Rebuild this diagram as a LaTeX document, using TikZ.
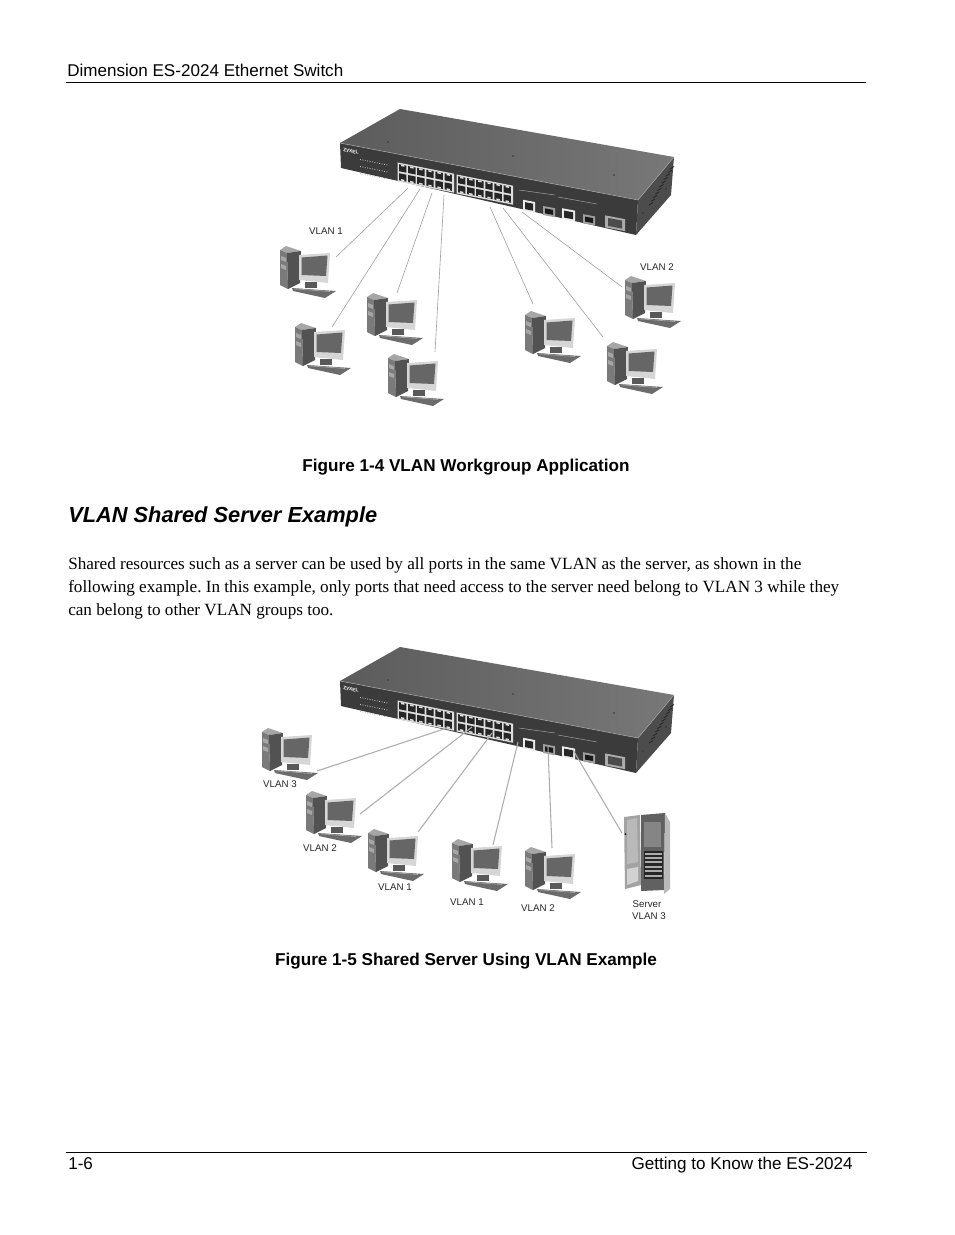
\documentclass[tikz,border=0pt]{standalone}
\usepackage{fontspec}
\usepackage{tikz}
\usetikzlibrary{positioning}
\setmainfont{Liberation Sans}
\newfontfamily\bodyfont{Liberation Serif}
\frenchspacing
\definecolor{toplight}{gray}{.47}
\definecolor{topdark}{gray}{.36}
\definecolor{frontface}{gray}{.23}
\definecolor{sideface}{gray}{.30}
\definecolor{cable}{gray}{.62}
\tikzset{
	page text/.style={font=\fontsize{12.8}{15}\selectfont, inner sep=0pt, anchor=base west},
	caption/.style={font=\fontsize{12.85}{15}\bfseries\selectfont, inner sep=0pt, anchor=base},
	body line/.style={font=\bodyfont\fontsize{12.86}{15}\selectfont, inner sep=0pt, anchor=base west},
	vlan/.style={font=\fontsize{7.3}{9}\selectfont, text=black!85, inner sep=0pt},
	link/.style={draw=cable, line width=.45pt},
	fat link/.style={draw=cable!85, line width=.8pt},
	pics/computer/.style={code={
		\fill[gray!70] (0,0) -- (6,-4) -- (21,1) -- (7,3) -- cycle;
		\fill[black!52] (0,0) -- (7,3) -- (8,39) -- (0,35) -- cycle;
		\fill[black!68] (7,3) -- (21,1) -- (20,33) -- (8,39) -- cycle;
		\fill[black!35] (1,6) -- (6,8) -- (6,12) -- (1,10) -- cycle;
		\fill[black!35] (1,14) -- (6,16) -- (6,20) -- (1,18) -- cycle;
		\fill[black!65] (25,32) rectangle (37,38);
		\fill[gray!32] (19,5) -- (50,3) -- (48,33) -- (19,30) -- cycle;
		\fill[black!60] (21.5,7.5) -- (47.5,5.5) -- (46,26) -- (21.5,25) -- cycle;
		\fill[black!58] (12,38) -- (56,41) -- (45,48) -- (13,41) -- cycle;
		\draw[gray!70, line width=.5pt] (14,38.8) -- (50,41.5);
	}},
	pics/server/.style={code={
		\fill[gray!72] (0,0) -- (16,-2) -- (17,68) -- (1,72) -- cycle;
		\fill[gray!55] (3,3) -- (13,1) -- (14,45) -- (3,47) -- cycle;
		\fill[gray!35] (3,52) -- (14,50) -- (14,64) -- (3,68) -- cycle;
		\fill[black!62] (17,-2) -- (41,-4) -- (40,73) -- (17,74) -- cycle;
		\fill[gray!55] (41,-4) -- (46,5) -- (46,72) -- (40,77) -- cycle;
		\fill[black!48] (20,5) rectangle (37,30);
		\fill[black!85] (20,34) rectangle (39,62);
		\fill[black!90] (1.5,17) circle (1);
		\foreach \k in {0,...,5}
			\fill[gray!65] (21,{35.5+\k*4.4}) rectangle (38,{37.5+\k*4.4});
	}},
	pics/portgroup/.style={code={
		\fill[gray!25] (-.5,-.5) rectangle (56,18.5);
		\foreach \i in {0,...,5} {
			\fill[black!85] ({1+\i*9.1},1) rectangle +(7.4,7);
			\fill[black!85] ({1+\i*9.1},10) rectangle +(7.4,7);
			\fill[gray!25] ({3+\i*9.1},1) rectangle +(3.4,1.5);
			\fill[gray!25] ({3+\i*9.1},15.5) rectangle +(3.4,1.5);
		}
	}},
	pics/switch/.style={code={
		\shade[left color=topdark, right color=toplight] (0,0) -- (60,-34) -- (334,14) -- (298,57) -- cycle;
		\fill[frontface] (0,0) -- (298,57) -- (296,92) -- (1,25) -- cycle;
		\fill[sideface] (298,57) -- (334,14) -- (331,52) -- (296,92) -- cycle;
		\draw[gray!70, line width=.4pt] (0,0) -- (298,57) -- (334,14);
		\fill[black!80] (48,-1) circle (.8) (173,13) circle (.8) (274,32) circle (.8);
		\begin{scope}[yslant=-.2]
			\node[font=\fontsize{3.7}{4}\bfseries\selectfont, text=white, inner sep=0pt, anchor=west, transform shape] (logo) at (3,6.5) {ZyXEL};
			\foreach \i in {0,...,11} \foreach \j in {0,1,2}
				\fill[gray!55] ({20+\i*2.4},{12+\j*7}) rectangle +(.9,.9);
		\end{scope}
		\pic[shift={(58,20)}, yslant=-.2] {portgroup};
		\pic[shift={(117,32)}, yslant=-.2] {portgroup};
		\draw[gray!70, line width=.35pt] (179,47) -- (215,52) (218,54) -- (257,61);
		\begin{scope}[yslant=-.19]
			\fill[gray!15] (183,22) rectangle +(12,11);
			\fill[black!85] (185,24) rectangle +(8,7);
			\fill[gray!75] (203,24.4) rectangle +(12,9);
			\fill[black!90] (205,26.4) rectangle +(8,5);
			\fill[gray!15] (222,23) rectangle +(13,11);
			\fill[black!85] (224,25) rectangle +(9,7);
			\fill[gray!75] (243,25) rectangle +(12,9);
			\fill[black!90] (245,27) rectangle +(8,5);
			\fill[gray!65] (265,22) rectangle +(20,12);
			\fill[black!70] (268,24) rectangle +(14,8);
		\end{scope}
		\foreach \k in {0,...,10}
			\draw[black!85, line width=.6pt] ({309+\k*2.1},{62-\k*3.6}) -- +(4,-2.5);
		\fill[black!80] (303,70) circle (.8) (326,46) circle (.8);
	}}
}
\begin{document}
\begin{tikzpicture}[x=.75pt,y=-.75pt]
	\useasboundingbox (0,0) rectangle (954,1235);

	\node[page text] (header) at (67,76) {Dimension ES-2024 Ethernet Switch};
	\coordinate (headL) at (66,82.5);
	\coordinate (headR) at (866,82.5);
	\draw[line width=.6pt] (headL) -- (headR);

	\pic (sw1) at (340,143) {switch};
	\pic (pc1) at (280,250) {computer};
	\pic (pc2) at (295,327) {computer};
	\pic (pc3) at (367,297) {computer};
	\pic (pc4) at (388,358) {computer};
	\pic (pc5) at (525,315) {computer};
	\pic (pc6) at (607,346) {computer};
	\pic (pc7) at (625,280) {computer};

	\node[vlan] (v1) at (326,231) {VLAN 1};
	\node[vlan] (v2) at (657,267) {VLAN 2};

	\coordinate (p1) at (408,188);
	\coordinate (p2) at (420,189);
	\coordinate (p3) at (432,193);
	\coordinate (p4) at (444,195);
	\coordinate (p5) at (490,207);
	\coordinate (p6) at (503,208);
	\coordinate (p7) at (522,212);
	\coordinate (e1) at (336,257);
	\coordinate (e2) at (332,327);
	\coordinate (e3) at (397,293);
	\coordinate (e4) at (435,352);
	\coordinate (e5) at (533,304);
	\coordinate (e6) at (603,337);
	\coordinate (e7) at (622,287);

	\path[link]
	(p1) edge (e1)
	(p2) edge (e2)
	(p3) edge (e3)
	(p4) edge (e4)
	(p5) edge (e5)
	(p6) edge (e6)
	(p7) edge (e7);

	\node[caption] (cap1) at (466,471) {Figure 1-4 VLAN Workgroup Application};
	\node[page text, font=\fontsize{16.35}{19}\bfseries\itshape\selectfont] (head2) at (68,522) {VLAN Shared Server Example};

	\node[body line] (l1) at (68,569) {Shared resources such as a server can be used by all ports in the same VLAN as the server, as shown in the};
	\node[body line] (l2) at (68,592) {following example. In this example, only ports that need access to the server need belong to VLAN 3 while they};
	\node[body line] (l3) at (68,615) {can belong to other VLAN groups too.};

	\pic (sw2) at (340,681) {switch};
	\pic (pc8) at (262,732) {computer};
	\pic (pc9) at (306,795) {computer};
	\pic (pc10) at (368,833) {computer};
	\pic (pc11) at (452,843) {computer};
	\pic (pc12) at (525,851) {computer};
	\pic (srv) at (624,817) {server};

	\node[vlan] (v3) at (280,784) {VLAN 3};
	\node[vlan] (v4) at (320,848) {VLAN 2};
	\node[vlan] (v5) at (395,887) {VLAN 1};
	\node[vlan] (v6) at (467,902) {VLAN 1};
	\node[vlan] (v7) at (538,908) {VLAN 2};
	\node[vlan] (v8) at (647,904) {Server};
	\node[vlan] (v9) at (649,916) {VLAN 3};

	\coordinate (q1) at (447,728);
	\coordinate (q2) at (472,727);
	\coordinate (q3) at (492,733);
	\coordinate (q4) at (518,742);
	\coordinate (q5) at (548,747);
	\coordinate (q6) at (573,750);
	\coordinate (f1) at (317,771);
	\coordinate (f2) at (360,814);
	\coordinate (f3) at (418,832);
	\coordinate (f4) at (493,845);
	\coordinate (f5) at (552,848);
	\coordinate (f6) at (622,833);

	\path[fat link]
	(q1) edge (f1)
	(q2) edge (f2)
	(q3) edge (f3)
	(q4) edge (f4)
	(q5) edge (f5)
	(q6) edge (f6);

	\node[caption] (cap2) at (466,965) {Figure 1-5 Shared Server Using VLAN Example};

	\coordinate (footL) at (66,1152.5);
	\coordinate (footR) at (867,1152.5);
	\draw[line width=.6pt] (footL) -- (footR);
	\node[page text] (pagenum) at (68,1169) {1-6};
	\node[page text, anchor=base east] (chapter) at (853,1169) {Getting to Know the ES-2024};
\end{tikzpicture}
\end{document}
